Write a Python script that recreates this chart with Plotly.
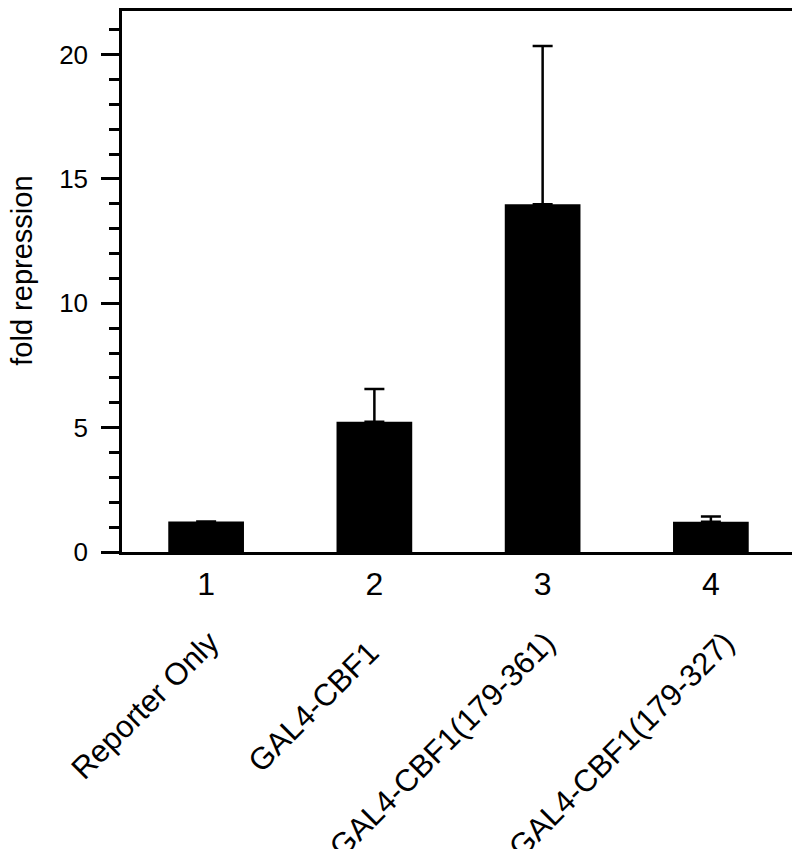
import plotly.graph_objects as go

# ---- data ----
tick_numbers = ["1", "2", "3", "4"]
construct_names = ["Reporter Only", "GAL4-CBF1", "GAL4-CBF1(179-361)", "GAL4-CBF1(179-327)"]
fold_repression = [1.23, 5.24, 13.98, 1.22]
error_plus = [0.0, 1.31, 6.36, 0.21]

FONT = "Liberation Sans, Arial, Helvetica, sans-serif"

fig = go.Figure()
fig.add_trace(go.Bar(
    x=tick_numbers,
    y=fold_repression,
    width=0.45,
    marker=dict(color="black", line=dict(width=0)),
    error_y=dict(type="data", symmetric=False, array=error_plus,
                 arrayminus=[0] * len(error_plus),
                 color="black", thickness=2.5, width=10),
    showlegend=False,
))

# page body has an 8px margin; layout compensates for it
W, H = 800, 849
ml, mr, mt = 114, 13, 0
plot_h = 543.7
mb = H - mt - plot_h
plot_w = W - ml - mr

fig.update_layout(
    width=W, height=H,
    margin=dict(l=ml, r=mr, t=mt, b=mb, pad=0),
    paper_bgcolor="white", plot_bgcolor="white",
    font=dict(family=FONT, color="black"),
)

fig.update_xaxes(
    type="category",
    range=[-0.5, 3.5],
    showline=True, linecolor="black", linewidth=2.5, mirror=True,
    showgrid=False, zeroline=False,
    ticks="", ticklabelstandoff=2,
    tickfont=dict(size=32, family=FONT, color="black"),
)

fig.update_yaxes(
    range=[0, 21.75],
    showline=True, linecolor="black", linewidth=2.5, mirror=True,
    showgrid=False, zeroline=False,
    tickmode="array", tickvals=[0, 5, 10, 15, 20],
    ticks="outside", ticklen=18, tickwidth=2.5, tickcolor="black",
    ticklabelstandoff=8,
    tickfont=dict(size=26, family=FONT, color="black"),
    minor=dict(dtick=1, ticks="outside", ticklen=10, tickwidth=2.5,
               tickcolor="black", showgrid=False),
)

# rotated construct names under the axis numbers
label_top_svg = 616
label_xshift = [21, 13, 21, 32]
label_yshift = [0, -9, 0, 0]
for i, name in enumerate(construct_names):
    fig.add_annotation(
        x=i, xref="x",
        y=-(label_top_svg - (mt + plot_h)) / plot_h, yref="paper",
        text=name, textangle=-45,
        xanchor="right", yanchor="top",
        xshift=label_xshift[i], yshift=label_yshift[i],
        showarrow=False, borderpad=0,
        font=dict(size=31, family=FONT, color="black"),
    )

# y-axis title
fig.add_annotation(
    x=(14 - ml) / plot_w, xref="paper",
    y=((mt + plot_h) - 261) / plot_h, yref="paper",
    text="fold repression", textangle=-90,
    xanchor="center", yanchor="middle",
    showarrow=False, borderpad=0,
    font=dict(size=29, family=FONT, color="black"),
)

fig.write_html("out.html")
